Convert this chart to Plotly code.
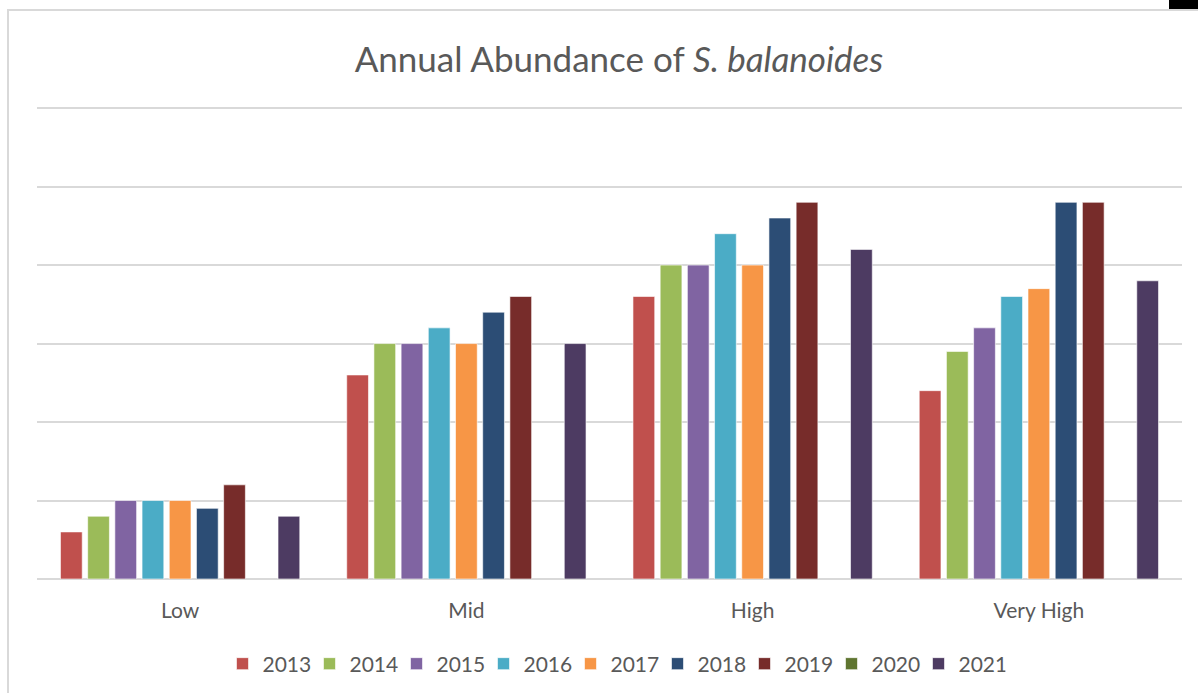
import plotly.graph_objects as go

categories = ["Low", "Mid", "High", "Very High"]
years = ["2013", "2014", "2015", "2016", "2017", "2018", "2019", "2020", "2021"]
values = {
    "2013": [0.6, 2.6, 3.6, 2.4],
    "2014": [0.8, 3.0, 4.0, 2.9],
    "2015": [1.0, 3.0, 4.0, 3.2],
    "2016": [1.0, 3.2, 4.4, 3.6],
    "2017": [1.0, 3.0, 4.0, 3.7],
    "2018": [0.9, 3.4, 4.6, 4.8],
    "2019": [1.2, 3.6, 4.8, 4.8],
    "2020": [None, None, None, None],
    "2021": [0.8, 3.0, 4.2, 3.8],
}
colors = ["#c0504d", "#9bbb59", "#8064a2", "#4bacc6", "#f79646",
          "#2c4d75", "#772c2a", "#5f7530", "#4d3b62"]

W, H = 1198, 693
L, R, T, B = 37, 16, 105, 114
pw, ph = W - L - R, H - T - B

def px(x):
    return (x - L) / pw

def py(y):
    return (H - B - y) / ph

fig = go.Figure()
for yr, c in zip(years, colors):
    fig.add_trace(go.Bar(
        x=categories, y=values[yr], name=yr,
        marker=dict(color=c, line=dict(color="rgba(255,255,255,0.6)", width=1)),
    ))

font = "Lato, 'Open Sans', sans-serif"
fig.update_layout(
    width=W, height=H,
    margin=dict(l=L, r=R, t=T, b=B, autoexpand=False),
    paper_bgcolor="white", plot_bgcolor="white",
    barmode="group", bargap=0.145, bargroupgap=0.2,
    title=dict(text="Annual Abundance of <i>S. balanoides</i>",
               xref="paper", x=px(619), xanchor="center", y=1 - 60 / H, yanchor="middle",
               font=dict(family=font, size=35, color="#595959")),
    xaxis=dict(showgrid=False, showline=False, ticks="outside", ticklen=13,
               tickcolor="rgba(0,0,0,0)",
               tickfont=dict(family=font, size=21, color="#595959")),
    yaxis=dict(range=[0, 6.04], dtick=1, showticklabels=False, gridcolor="#d9d9d9",
               gridwidth=1.5, zeroline=True, zerolinecolor="#d9d9d9", zerolinewidth=1.5,
               showline=False),
    legend=dict(orientation="h", x=px(614), xanchor="center", y=py(664), yanchor="middle",
                font=dict(family=font, size=21, color="#595959"),
                itemwidth=30, traceorder="normal", entrywidth=42),
    showlegend=True,
)
fig.add_shape(type="rect", xref="paper", yref="paper",
              x0=px(8), x1=px(1210), y0=py(10), y1=py(710),
              line=dict(color="#d9d9d9", width=2), layer="below")
fig.add_shape(type="rect", xref="paper", yref="paper",
              x0=px(1170), x1=px(1200), y0=py(-2), y1=py(8),
              line=dict(color="black", width=2), fillcolor="black")
fig.write_html("out.html")
